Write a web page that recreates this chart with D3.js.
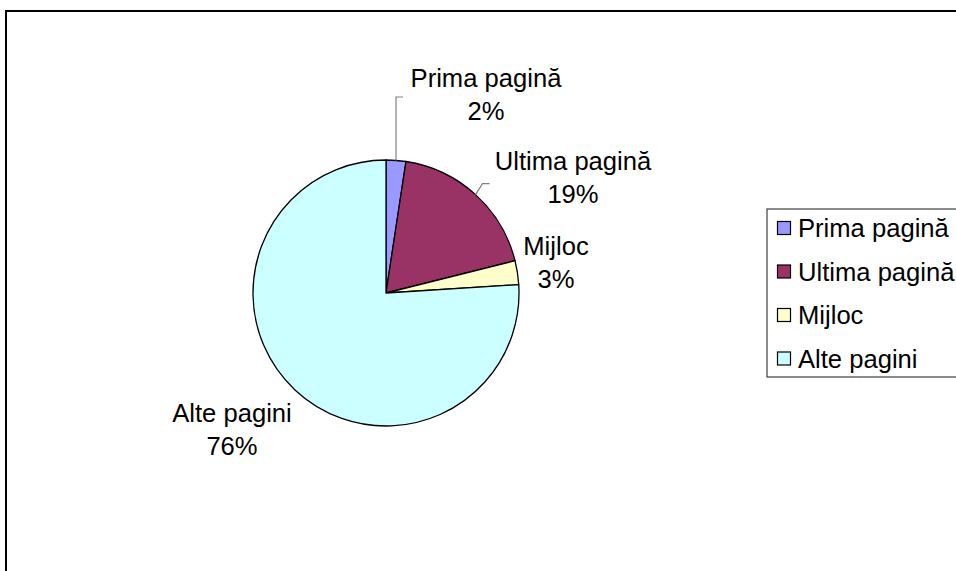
<!DOCTYPE html>
<html>
<head>
<meta charset="utf-8">
<script src="https://cdn.jsdelivr.net/npm/d3@7"></script>
<style>
  html, body { margin: 0; padding: 0; background: #fff; overflow: hidden; }
  svg { display: block; font-family: "Liberation Sans", Arial, sans-serif; }
</style>
</head>
<body>
<script>
// categories and shares (percent)
const categories = ["Prima pagină", "Ultima pagină", "Mijloc", "Alte pagini"];
const values = [2.4, 18.7, 2.9, 76.0];
const labels = ["2%", "19%", "3%", "76%"];
const colors = ["#9999FF", "#993366", "#FFFFCC", "#CCFFFF"];

const width = 956, height = 571;
const cx = 386, cy = 293, r = 133;
const fontSize = 25.6;

const data = categories.map((name, i) => ({name, value: values[i], label: labels[i]}));

const svg = d3.select("body").append("svg")
    .attr("width", width)
    .attr("height", height);

// chart area frame (runs off the right and bottom of the picture)
svg.append("rect")
    .attr("x", 6)
    .attr("y", 11)
    .attr("width", 1000)
    .attr("height", 600)
    .attr("fill", "#fff")
    .attr("stroke", "#000")
    .attr("stroke-width", 2);

const pie = d3.pie().sort(null).value(d => d.value);
const arcs = pie(data);
const arc = d3.arc().innerRadius(0).outerRadius(r);

const color = d3.scaleOrdinal(categories, colors);

const g = svg.append("g").attr("transform", `translate(${cx},${cy})`);

g.selectAll("path")
  .data(arcs)
  .join("path")
    .attr("d", arc)
    .attr("fill", d => color(d.data.name))
    .attr("stroke", "#000")
    .attr("stroke-width", 1.3)
    .attr("stroke-linejoin", "round");

// label offsets relative to the pie centre (centre of first line, baseline)
const labelPos = [[100, -206], [187, -123], [170, -38], [-154, 129]];

const lbl = g.append("g")
    .attr("font-size", fontSize)
    .attr("text-anchor", "middle")
    .attr("fill", "#000");

arcs.forEach((d, i) => {
  const [x, y] = labelPos[i];
  const t = lbl.append("text").attr("x", x).attr("y", y);
  t.append("tspan").attr("x", x).text(d.data.name);
  t.append("tspan").attr("x", x).attr("dy", 33).text(d.data.label);
});

// leader lines for the two small top slices
const leader = g.append("g")
    .attr("fill", "none")
    .attr("stroke", "#808080")
    .attr("stroke-width", 1.2);

function edgePoint(a, rr) {
  return [Math.sin(a) * rr, -Math.cos(a) * rr];
}
{
  const a = (arcs[0].startAngle + arcs[0].endAngle) / 2;
  const [x0, y0] = edgePoint(a, r);
  leader.append("path").attr("d", d3.line()([[x0, y0], [x0, -196], [x0 + 7, -196]]));
}
{
  const a = (arcs[1].startAngle + arcs[1].endAngle) / 2;
  const [x0, y0] = edgePoint(a, r);
  leader.append("path").attr("d", d3.line()([[x0, y0], [x0 + 7, y0 - 11], [x0 + 14, y0 - 11]]));
}

// legend
const legend = svg.append("g").attr("transform", "translate(767,209)");
legend.append("rect")
    .attr("width", 300)
    .attr("height", 168)
    .attr("fill", "#fff")
    .attr("stroke", "#404040")
    .attr("stroke-width", 1.2);

const item = legend.selectAll("g.item")
  .data(categories)
  .join("g")
    .attr("class", "item")
    .attr("transform", (d, i) => `translate(10,${19 + i * 43.5})`);

item.append("rect")
    .attr("x", 0.5)
    .attr("y", -6.5)
    .attr("width", 13)
    .attr("height", 13)
    .attr("fill", d => color(d))
    .attr("stroke", "#000")
    .attr("stroke-width", 1.2);

item.append("text")
    .attr("x", 21)
    .attr("dy", "0.36em")
    .attr("font-size", fontSize)
    .text(d => d);
</script>
</body>
</html>
